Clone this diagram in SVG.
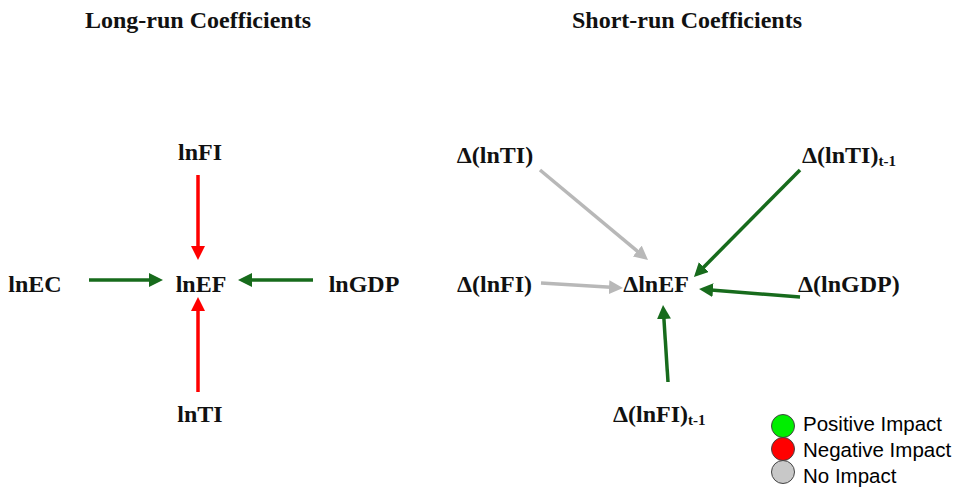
<svg xmlns="http://www.w3.org/2000/svg" width="962" height="490" viewBox="0 0 962 490">
<style>
.t{font-family:"Liberation Serif","Times New Roman",serif;font-weight:bold;font-size:24px;fill:#111}
.ttl{font-family:"Liberation Serif","Times New Roman",serif;font-weight:bold;font-size:24px;fill:#111}
.sub{font-size:15px}
.lg{font-family:"Liberation Sans",Arial,sans-serif;font-size:20.5px;fill:#000}
.red{stroke:#ff0000;stroke-width:3.5;fill:none}
.grn{stroke:#176b1c;stroke-width:3.5;fill:none}
.gry{stroke:#b8b8b8;stroke-width:3.5;fill:none}
</style>
<defs>
<marker id="aR" markerUnits="userSpaceOnUse" markerWidth="15" markerHeight="14" refX="2" refY="7" orient="auto"><path d="M0,0 L14,7 L0,14 z" fill="#ff0000"/></marker>
<marker id="aG" markerUnits="userSpaceOnUse" markerWidth="15" markerHeight="14" refX="2" refY="7" orient="auto"><path d="M0,0 L14,7 L0,14 z" fill="#176b1c"/></marker>
<marker id="aY" markerUnits="userSpaceOnUse" markerWidth="15" markerHeight="14" refX="2" refY="7" orient="auto"><path d="M0,0 L14,7 L0,14 z" fill="#b8b8b8"/></marker>
</defs>
<rect width="962" height="490" fill="#fff"/>
<text class="ttl" x="85" y="28">Long-run Coefficients</text>
<text class="ttl" x="572" y="28">Short-run Coefficients</text>
<g id="connectors">
<line class="red" x1="198" y1="175" x2="198" y2="248" marker-end="url(#aR)"/>
<line class="red" x1="198" y1="392" x2="198" y2="309" marker-end="url(#aR)"/>
<line class="grn" x1="89" y1="280" x2="151" y2="280" marker-end="url(#aG)"/>
<line class="grn" x1="313" y1="280" x2="250" y2="280" marker-end="url(#aG)"/>
<line class="gry" x1="540" y1="170" x2="638.8" y2="252.3" marker-end="url(#aY)"/>
<line class="grn" x1="800" y1="170" x2="702.4" y2="268.5" marker-end="url(#aG)"/>
<line class="gry" x1="541" y1="283" x2="611" y2="287.3" marker-end="url(#aY)"/>
<line class="grn" x1="800" y1="297" x2="711" y2="290" marker-end="url(#aG)"/>
<line class="grn" x1="668" y1="382" x2="663.8" y2="317" marker-end="url(#aG)"/>
</g>
<g id="lnFI"><text class="t" x="200" y="160" text-anchor="middle">lnFI</text></g>
<g id="lnEF"><text class="t" x="201" y="292" text-anchor="middle">lnEF</text></g>
<g id="lnEC"><text class="t" x="35" y="292" text-anchor="middle">lnEC</text></g>
<g id="lnGDP"><text class="t" x="364" y="292" text-anchor="middle">lnGDP</text></g>
<g id="lnTI"><text class="t" x="200" y="422" text-anchor="middle">lnTI</text></g>
<g id="dlnTI"><text class="t" x="495" y="163" text-anchor="middle">Δ(lnTI)</text></g>
<g id="dlnTI1"><text class="t" x="802" y="163">Δ(lnTI)<tspan class="sub" dy="3">t-1</tspan></text></g>
<g id="dlnFI"><text class="t" x="457" y="292">Δ(lnFI)</text></g>
<g id="dlnEF"><text class="t" x="656" y="292" text-anchor="middle">ΔlnEF</text></g>
<g id="dlnGDP"><text class="t" x="798" y="292">Δ(lnGDP)</text></g>
<g id="dlnFI1"><text class="t" x="613" y="422">Δ(lnFI)<tspan class="sub" dy="3">t-1</tspan></text></g>
<g id="legend">
<line x1="783" y1="430" x2="783" y2="468" stroke="#999" stroke-width="3"/>
<circle cx="783" cy="426" r="11.5" fill="#00ee00" stroke="#444" stroke-width="1"/>
<circle cx="783" cy="449" r="11.5" fill="#ff0000" stroke="#444" stroke-width="1"/>
<circle cx="783" cy="472" r="11.5" fill="#c8c8c8" stroke="#444" stroke-width="1"/>
<text class="lg" x="803" y="431">Positive Impact</text>
<text class="lg" x="803" y="457">Negative Impact</text>
<text class="lg" x="803" y="483">No Impact</text>
</g>
</svg>
